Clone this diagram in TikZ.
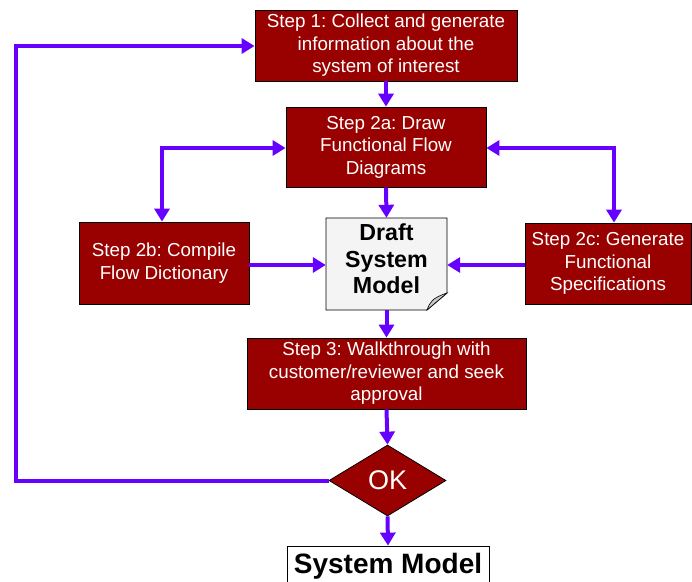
\documentclass[tikz,border=0pt]{standalone}
\usepackage{fontspec}
\setmainfont{Liberation Sans}
\usetikzlibrary{arrows.meta,shapes.geometric}
\definecolor{boxred}{HTML}{990000}
\definecolor{arrviolet}{HTML}{6600FF}
\definecolor{docgrey}{HTML}{F4F4F4}
\definecolor{foldgrey}{HTML}{C8C8C8}
\frenchspacing
\begin{document}
\begin{tikzpicture}[x=1pt,y=-1pt,
  stepbox/.style={draw=black,line width=0.8pt,fill=boxred,text=white,align=center,
    inner sep=2pt,font=\fontsize{18.8}{22.5}\selectfont},
  conn/.style={draw=arrviolet,line width=4pt,-{Triangle[length=13pt,width=15pt]}},
  bconn/.style={draw=arrviolet,line width=4pt,{Triangle[length=13pt,width=15pt]}-{Triangle[length=13pt,width=15pt]}}]
\useasboundingbox (0,0) rectangle (692,581);
% nodes
\node[stepbox,minimum width=262pt,minimum height=71pt] (s1) at (386,45.5)
  {Step 1: Collect and generate\\information about the\\system of interest};
\node[stepbox,minimum width=200pt,minimum height=80pt] (s2a) at (386,147)
  {Step 2a: Draw\\Functional Flow\\Diagrams};
\node[stepbox,minimum width=170pt,minimum height=82pt] (s2b) at (164,263)
  {Step 2b: Compile\\Flow Dictionary};
\node[stepbox,minimum width=166pt,minimum height=81pt] (s2c) at (608,263.5)
  {Step 2c: Generate\\Functional\\Specifications};
\node[stepbox,minimum width=279pt,minimum height=71pt] (s3) at (386.5,373.5)
  {Step 3: Walkthrough with\\customer/reviewer and seek\\approval};
% draft document
\node[minimum width=121pt,minimum height=92pt,inner sep=0pt] (draft) at (386.5,264) {};
\fill[docgrey,draw=black,line width=0.8pt] (326,218) -- (447,218) -- (447,293) -- (427,310) -- (326,310) -- cycle;
\fill[foldgrey,draw=black,line width=0.6pt] (447,293) -- (427,310) .. controls (430,302) and (432,298) .. (447,293) -- cycle;
\node[align=center,font=\bfseries\fontsize{23.2}{26.5}\selectfont] (drafttext) at (386.5,259) {Draft\\System\\Model};
% decision
\node[diamond,draw=black,line width=0.8pt,fill=boxred,text=white,minimum width=117pt,minimum height=71pt,
  inner sep=0pt,font=\fontsize{27}{30}\selectfont] (ok) at (387.5,480.5) {OK};
% final
\node[draw=black,line width=0.8pt,fill=white,minimum width=202pt,minimum height=40pt,inner sep=0pt,
  font=\bfseries\fontsize{28}{32}\selectfont] (sm) at (388,566) {System Model};
% connectors
\draw[conn] (s1.south) -- (s2a.north);
\draw[conn] (s2a.south) -- (draft.north);
\draw[conn] (draft.south) -- (s3.north);
\draw[conn] (s3.south) -- (ok.north);
\draw[conn] (ok.south) -- (sm.north);
\draw[conn] (s2b.east) ++(0,2) -- (draft.west |- 0,265);
\draw[conn] (s2c.west) ++(0,1.5) -- (draft.east |- 0,265);
\coordinate (lb) at (162,148);
\coordinate (rb) at (614,148);
\draw[bconn] (s2a.west |- lb) -- (lb) -- (lb |- s2b.north);
\draw[bconn] (s2a.east |- rb) -- (rb) -- (rb |- s2c.north);
\coordinate (ll) at (16,480.5);
\coordinate (lt) at (16,46);
\draw[conn] (ok.west) -- (ll) -- (lt) -- (s1.west |- lt);
\end{tikzpicture}
\end{document}
